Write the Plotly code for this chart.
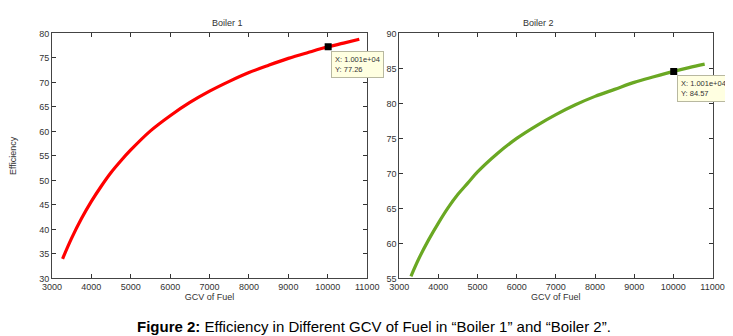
import plotly.graph_objects as go

# Data
gcv_b1 = [3270, 3500, 3750, 4000, 4250, 4500, 4750, 5000, 5500, 6000, 6500, 7000,
          7500, 8000, 8500, 9000, 9500, 10010, 10400, 10800]
eff_b1 = [34.0, 38.2, 42.2, 45.7, 48.8, 51.6, 54.0, 56.2, 60.1, 63.2, 65.9, 68.2,
          70.2, 72.0, 73.5, 74.9, 76.1, 77.26, 78.0, 78.8]
gcv_b2 = [3300, 3500, 3750, 4000, 4250, 4500, 4750, 5000, 5500, 6000, 6500, 7000,
          7500, 8000, 8500, 9000, 9500, 10010, 10400, 10800]
eff_b2 = [55.3, 57.8, 60.5, 62.9, 65.1, 67.0, 68.6, 70.2, 72.8, 75.0, 76.8, 78.4,
          79.8, 81.0, 82.0, 83.0, 83.8, 84.57, 85.1, 85.6]
tip_b1 = (10010, 77.26, "X: 1.001e+04", "Y: 77.26")
tip_b2 = (10010, 84.57, "X: 1.001e+04", "Y: 84.57")
x_ticks = [3000, 4000, 5000, 6000, 7000, 8000, 9000, 10000, 11000]
x_tick_labels = ["3000", "4000", "5000", "6000", "7000", "8000", "9000", "10000", "11000"]
y_ticks_b1 = [30, 35, 40, 45, 50, 55, 60, 65, 70, 75, 80]
y_ticks_b2 = [55, 60, 65, 70, 75, 80, 85, 90]

W, H = 733, 336
font = "Arial, Liberation Sans, sans-serif"

fig = go.Figure()
fig.add_trace(go.Scatter(x=gcv_b1, y=eff_b1, mode="lines", line=dict(color="#ff0000", width=3.2, shape="spline"),
                         xaxis="x", yaxis="y", showlegend=False))
fig.add_trace(go.Scatter(x=gcv_b2, y=eff_b2, mode="lines", line=dict(color="#6aa823", width=3.2, shape="spline"),
                         xaxis="x2", yaxis="y2", showlegend=False))
fig.add_trace(go.Scatter(x=[tip_b1[0]], y=[tip_b1[1]], mode="markers",
                         marker=dict(symbol="square", size=7, color="black"),
                         xaxis="x", yaxis="y", showlegend=False))
fig.add_trace(go.Scatter(x=[tip_b2[0]], y=[tip_b2[1]], mode="markers",
                         marker=dict(symbol="square", size=7, color="black"),
                         xaxis="x2", yaxis="y2", showlegend=False))

ydom = [1 - 273.5 / H, 1 - 21 / H]
axis_common = dict(showgrid=False, zeroline=False, ticks="inside", ticklen=4, tickcolor="#333",
                   showline=True, linecolor="#444", linewidth=1, mirror="ticks",
                   tickfont=dict(family=font, size=9, color="#333"))

fig.update_layout(
    width=W, height=H, margin=dict(l=0, r=0, t=0, b=0),
    paper_bgcolor="white", plot_bgcolor="white",
    xaxis=dict(domain=[35 / W, 360 / W], range=[3000, 11000], tickvals=x_ticks, ticktext=x_tick_labels,
               title=dict(text="GCV of Fuel", font=dict(family=font, size=9, color="#333"), standoff=2),
               anchor="y", **axis_common),
    yaxis=dict(domain=ydom, range=[30, 80], tickvals=y_ticks_b1, anchor="x",
               title=dict(text="Efficiency", font=dict(family=font, size=9, color="#333"), standoff=20),
               **axis_common),
    xaxis2=dict(domain=[393 / W, 716 / W], range=[3000, 11000], tickvals=x_ticks, ticktext=x_tick_labels,
                title=dict(text="GCV of Fuel", font=dict(family=font, size=9, color="#333"), standoff=2),
                anchor="y2", **axis_common),
    yaxis2=dict(domain=ydom, range=[55, 90], tickvals=y_ticks_b2, anchor="x2", **axis_common),
)

anns = []
anns.append(dict(text="Boiler 1", x=(35 + 360) / 2 / W, y=1 - 10 / H, xref="paper", yref="paper",
                 yanchor="middle", showarrow=False, font=dict(family=font, size=9, color="#333")))
anns.append(dict(text="Boiler 2", x=(393 + 716) / 2 / W, y=1 - 10 / H, xref="paper", yref="paper",
                 yanchor="middle", showarrow=False, font=dict(family=font, size=9, color="#333")))
for tip, xr, yr in [(tip_b1, "x", "y"), (tip_b2, "x2", "y2")]:
    anns.append(dict(text=tip[2] + "<br>" + tip[3], x=tip[0], y=tip[1], xref=xr, yref=yr,
                     xanchor="left", yanchor="top", align="left", showarrow=False,
                     xshift=3, yshift=-4, bgcolor="#ffffe1", bordercolor="#b8b8a0", borderwidth=1,
                     borderpad=3, font=dict(family=font, size=7.5, color="#333")))
anns.append(dict(text="<b>Figure 2:</b> Efficiency in Different GCV of Fuel in \u201cBoiler 1\u201d and \u201cBoiler 2\u201d.",
                 x=367 / W, y=1 - 323 / H, xref="paper", yref="paper", yanchor="middle", showarrow=False,
                 font=dict(family=font, size=15, color="black")))
fig.update_layout(annotations=anns)

fig.write_html("out.html")
